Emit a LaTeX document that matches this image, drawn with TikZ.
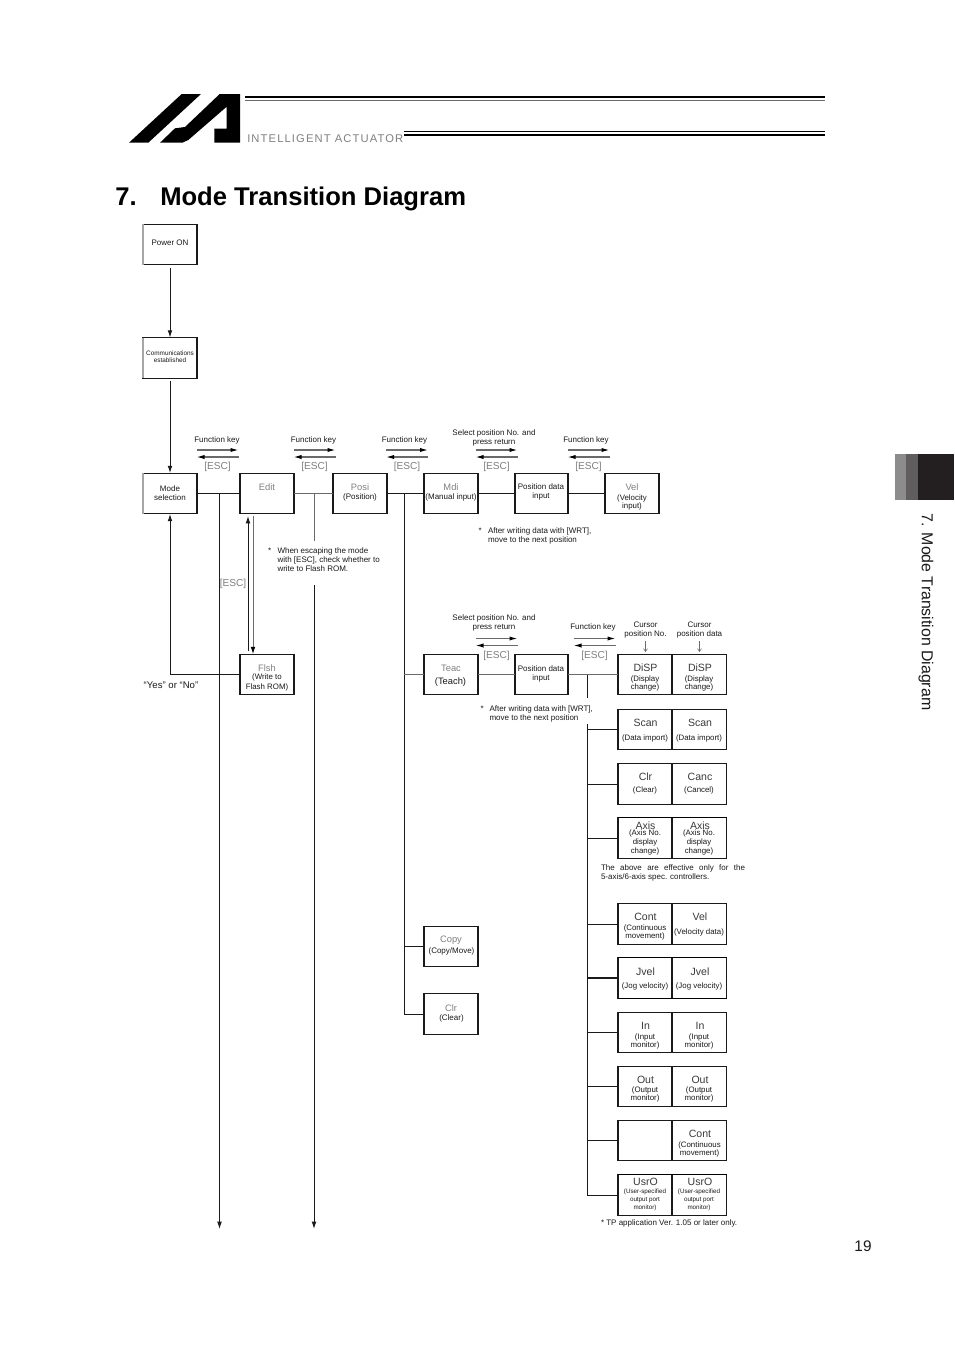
\documentclass[tikz,border=0pt]{standalone}
\usepackage{fontspec}
\setmainfont{Liberation Sans}
\newfontfamily\spacedfont[LetterSpace=10]{Liberation Sans}
\usetikzlibrary{arrows.meta}
\definecolor{ink}{HTML}{1A1A1A}
\definecolor{keyd}{HTML}{3A3A3A}
\definecolor{keyg}{HTML}{808080}
\definecolor{linegray}{HTML}{6A6A6A}
\definecolor{tabm}{HTML}{5F5D5E}
\definecolor{tabd}{HTML}{231F20}
\tikzset{
  x=0.75pt,y=-0.75pt,
  box/.style={draw=ink,line width=0.85pt,minimum width=40.5pt,minimum height=30.6pt,inner sep=0pt,outer sep=0pt},
  txtb/.style={inner sep=0pt,outer sep=0pt,align=center,text=ink,font=\fontsize{6}{6.8}\selectfont},
  txt/.style={txtb,yshift=-0.9pt},
  sub/.style={txt,font=\fontsize{5.9}{6}\selectfont},
  subw/.style={txt,font=\fontsize{5.9}{6.8}\selectfont},
  small/.style={txt,font=\fontsize{4.8}{5.6}\selectfont},
  tiny/.style={txt,font=\fontsize{4.7}{6}\selectfont},
  leftt/.style={txt,align=left,anchor=north west},
  keyA/.style={txtb,text=keyd,font=\fontsize{7.9}{9}\selectfont},
  keyB/.style={txtb,text=keyg,font=\fontsize{7}{8}\selectfont},
  esc/.style={txtb,text=keyg,font=\fontsize{7.6}{8}\selectfont},
  conn/.style={draw=ink,line width=0.75pt},
  conng/.style={draw=linegray,line width=0.75pt},
  arr/.style={conn,-{Latex[length=5.5pt,width=3.6pt]}},
  fwd/.style={draw=linegray,line width=0.9pt,-{Latex[length=6pt,width=3.2pt,color=black]}},
  thinarr/.style={draw=linegray,line width=0.4pt,-{Straight Barb[length=2.2pt,width=3pt]}},
  fade/.style={draw=black!35,line width=0.9pt},
  heavy/.style={draw=black,line width=1.25pt},
}
\begin{document}
\begin{tikzpicture}
\useasboundingbox (0,0) rectangle (954,1350);
\fill[white] (0,0) rectangle (954,1350);
% logo
\fill[black] (181.7,94)--(201,94)--(148.3,142.7)--(129,142.7)--cycle;
\fill[black] (219.7,94)--(185,127)--(175,128.3)--(160,142.7)--(182.3,142.7)--(188.3,140)--(226.7,106.7)--(226.7,128.7)--(214.3,128.7)--(214.3,142.7)--(240,142.7)--(240,94)--cycle;
\draw[black,line width=1.1pt] (245,97)--(825,97);
\draw[linegray,line width=0.5pt] (245,100)--(825,100);
\draw[black,line width=0.7pt] (404,131)--(825,131);
\draw[black,line width=1.1pt] (404,135)--(825,135);
\node[inner sep=0pt,anchor=west,text=keyg,font=\spacedfont\fontsize{8.4}{9}\selectfont] (brand) at (247,138.5) {INTELLIGENT ACTUATOR};
% title
\node[inner sep=0pt,anchor=base west,text=black,font=\bfseries\fontsize{19.2}{22}\selectfont] (num) at (115,205) {7.};
\node[inner sep=0pt,anchor=base west,text=black,font=\bfseries\fontsize{19.2}{22}\selectfont] (title) at (160,205) {Mode Transition Diagram};
% tab
\fill[black!45] (895,454) rectangle (906,500);
\fill[tabm] (906,454) rectangle (918,500);
\fill[tabd] (918,454) rectangle (954,500);
\node[rotate=-90,inner sep=0pt,text=ink,font=\fontsize{11.9}{13}\selectfont] (side) at (926,612) {7. Mode Transition Diagram};
\node[inner sep=0pt,text=ink,font=\fontsize{11.5}{13}\selectfont] (page) at (863,1246) {19};

% top column
\node[box] (pon) at (170,244.5) {};
\node[txt] (ponT) at (170,241.5) {Power ON};
\node[box] (comm) at (170,358) {};
\node[small] (commT) at (170,355.5) {Communications\\established};
\node[box] (mode) at (170,493.5) {};
\node[txt] (modeT) at (170,492) {Mode\\selection};
\draw[fade] (pon.north west) -- (pon.south west);
\draw[fade] (comm.north west) -- (comm.south west);
\draw[fade] (mode.north west) -- (mode.south west);
\node[box] (edit) at (267,493.5) {};
\node[keyB] (editK) at (267,487) {Edit};
\node[box] (posi) at (360,493.5) {};
\node[keyB] (posiK) at (360,487) {Posi};
\node[txt] (posiS) at (360,496.5) {(Position)};
\node[box] (mdi) at (451,493.5) {};
\node[keyB] (mdiK) at (451,487) {Mdi};
\node[txt] (mdiS) at (451,496.5) {(Manual input)};
\node[box,minimum width=39.75pt] (pd1) at (541.5,493.5) {};
\node[txt] (pd1T) at (541,491) {Position data\\input};
\node[box] (vel) at (632,493.5) {};
\node[keyB] (velK) at (632,487) {Vel};
\node[sub] (velS) at (632,501.5) {(Velocity\\input)};
\node[box] (flsh) at (267,674.5) {};
\node[keyB] (flshK) at (267,668) {Flsh};
\node[txt,font=\fontsize{5.9}{7.4}\selectfont] (flshS) at (267,681.5) {(Write to\\Flash ROM)};
\node[box] (teac) at (451,674.5) {};
\node[keyB] (teacK) at (451,668) {Teac};
\node[txt,font=\fontsize{7}{8}\selectfont] (teacS) at (450.5,681) {(Teach)};
\node[box,minimum width=39.75pt] (pd2) at (541.5,674.5) {};
\node[txt] (pd2T) at (541,672.5) {Position data\\input};
\node[box] (copy) at (451,946.5) {};
\node[keyB] (copyK) at (451,940) {Copy};
\node[txt] (copyS) at (451.5,950.5) {(Copy/Move)};
\node[box] (clrm) at (451,1014) {};
\node[keyB] (clrmK) at (451,1008) {Clr};
\node[txt] (clrmS) at (451.5,1017.5) {(Clear)};

% key tables: name, y, left key, left sub, right key, right sub, sub style, sub offset, key offset
\newcommand{\keypair}[9]{%
  \node[box] (#1L) at (645,#2) {};
  \node[box] (#1R) at (699.5,#2) {};
  \node[keyA] (#1LK) at (645.5,#2-#9) {#3};
  \node[#7] (#1LS) at (645,#2+#8) {#4};
  \node[keyA] (#1RK) at (700,#2-#9) {#5};
  \node[#7] (#1RS) at (699,#2+#8) {#6};
}
\keypair{a}{674.5}{DiSP}{(Display\\change)}{DiSP}{(Display\\change)}{sub}{7.5}{6.5}
\keypair{b}{729.5}{Scan}{(Data import)}{Scan}{(Data import)}{sub}{7.5}{7}
\keypair{c}{784}{Clr}{(Clear)}{Canc}{(Cancel)}{sub}{5}{7}
\keypair{d}{838}{Axis}{(Axis No.\\display\\change)}{Axis}{(Axis No.\\display\\change)}{subw}{3.5}{12}
\keypair{e}{924}{Cont}{(Continuous\\movement)}{Vel}{(Velocity data)}{sub}{7}{7}
\keypair{f}{978}{Jvel}{(Jog velocity)}{Jvel}{(Jog velocity)}{sub}{7}{6.5}
\keypair{g}{1032.5}{In}{(Input\\monitor)}{In}{(Input\\monitor)}{sub}{7.5}{6.5}
\keypair{h}{1086.5}{Out}{(Output\\monitor)}{Out}{(Output\\monitor)}{sub}{7}{6.5}
\node[box] (iL) at (645,1140.5) {};
\node[box] (iR) at (699.5,1140.5) {};
\node[keyA] (iRK) at (700,1134) {Cont};
\node[sub] (iRS) at (699.5,1148) {(Continuous\\movement)};
\keypair{j}{1195}{UsrO}{(User-specified\\output port\\monitor)}{UsrO}{(User-specified\\output port\\monitor)}{tiny}{4}{13}
\draw[heavy] (dL.north west) -- (dR.north east);
\draw[heavy] (fL.north west) -- (fR.north east);
\draw[heavy] (fL.south west) -- (fR.south east);
\draw[heavy] (jL.north west) -- (jR.north east);

% main connectors
\draw[arr] (pon.south)++(0,3) -- (comm.north);
\draw[arr] (comm.south)++(0,3) -- (mode.north);
\draw[conn] (mode.east) -- (edit.west);
\draw[conng] (edit.east) -- (posi.west);
\draw[conn] (posi.east) -- (mdi.west);
\draw[conn] (mdi.east) -- (pd1.west);
\draw[conn] (pd1.east) -- (vel.west);
\coordinate (v1t) at (219.5,493.5);
\coordinate (v1b) at (219.5,1229);
\draw[arr] (v1t) -- (v1b);
\coordinate (v2t) at (314,493.5);
\coordinate (v2m) at (314,541);
\coordinate (v2n) at (314,585);
\coordinate (v2b) at (314,1229);
\draw[conng] (v2t) -- (v2m);
\draw[arr] (v2n) -- (v2b);
\coordinate (v3t) at (404,493.5);
\draw[conn] (v3t) |- (clrm.west);
\draw[conng] (404,674.5) -- (teac.west);
\draw[conn] (404,946.5) -- (copy.west);
\draw[arr] (flsh.west) -| (mode.south);
\draw[arr] (248,651) -- (248,516);
\draw[conng,-{Latex[length=5.5pt,width=3.6pt,color=black]}] (253,516) -- (flsh.north -| 253,0);
\draw[conng] (teac.east) -- (pd2.west);
\draw[conng] (pd2.east) -- (aL.west);
\coordinate (v4t) at (587,674.5);
\coordinate (v4m) at (587,698);
\coordinate (v4n) at (587,724);
\coordinate (v4b) at (587,1196);
\draw[conn] (v4t) -- (v4m);
\draw[conn] (v4n) -- (v4b);
\foreach \n in {b,c,d,e,g,h,i} { \draw[conn] (587,0 |- \n L.west) -- (\n L.west); }
\draw[conn,line width=1.2pt] (587,0 |- fL.west) -- (fL.west);
\draw[conn] (587,0 |- jL.west) -- (jL.west);

% double arrows
\newcommand{\dbl}[3]{%
  \coordinate (#1a) at (#2,#3);
  \coordinate (#1b) at (#2+42,#3);
  \coordinate (#1c) at (#2,#3+7);
  \coordinate (#1d) at (#2+42,#3+7);
  \draw[fwd] (#1a) -- (#1b);
  \draw[fwd] (#1d) -- (#1c);
  \node[esc] (#1e) at (#2+21,#3+17) {[ESC]};
}
\dbl{p}{196.5}{450}
\dbl{q}{293.5}{450}
\dbl{r}{386}{450}
\dbl{s}{475.5}{450}
\dbl{t}{567.5}{450}
\dbl{u}{475.5}{638.5}
\dbl{w}{573.5}{638.5}
\node[esc] (esc5) at (233,583.5) {[ESC]};

% labels
\node[txt] (l1) at (217,439) {Function key};
\node[txt] (l2) at (313.5,439) {Function key};
\node[txt] (l3) at (404.5,439) {Function key};
\node[txt] (l4) at (494,436.5) {Select position No. and\\press return};
\node[txt] (l5) at (586,439) {Function key};
\node[txt] (l6) at (494,621.5) {Select position No. and\\press return};
\node[txt] (l7) at (593,626) {Function key};
\node[txt] (l8) at (645.5,628.5) {Cursor\\position No.};
\node[txt] (l9) at (699.5,628.5) {Cursor\\position data};
\coordinate (ca) at (645.5,641); \coordinate (cb) at (645.5,652);
\coordinate (cc) at (699.5,641); \coordinate (cd) at (699.5,652);
\draw[thinarr] (ca) -- (cb);
\draw[thinarr] (cc) -- (cd);
\node[txt,font=\fontsize{7.2}{8}\selectfont] (yes) at (171,684) {“Yes” or “No”};
\node[txt,anchor=north west] (star1) at (268,546.5) {*};
\node[leftt,font=\fontsize{6}{7}\selectfont] (n1) at (277.5,546) {When escaping the mode\\with [ESC], check whether to\\write to Flash ROM.};
\node[txt,anchor=north west] (star2) at (478.5,526.5) {*};
\node[leftt] (n2) at (488,526) {After writing data with [WRT],\\move to the next position};
\node[txt,anchor=north west] (star3) at (480.5,704.5) {*};
\node[leftt] (n3) at (489.5,704) {After writing data with [WRT],\\move to the next position};
\node[leftt] (n4) at (601,863.5) {\hbox to 108pt{The\hfill above\hfill are\hfill effective\hfill only\hfill for\hfill the}\\5-axis/6-axis spec. controllers.};
\node[leftt] (n5) at (601,1218) {* TP application Ver. 1.05 or later only.};
\end{tikzpicture}
\end{document}
